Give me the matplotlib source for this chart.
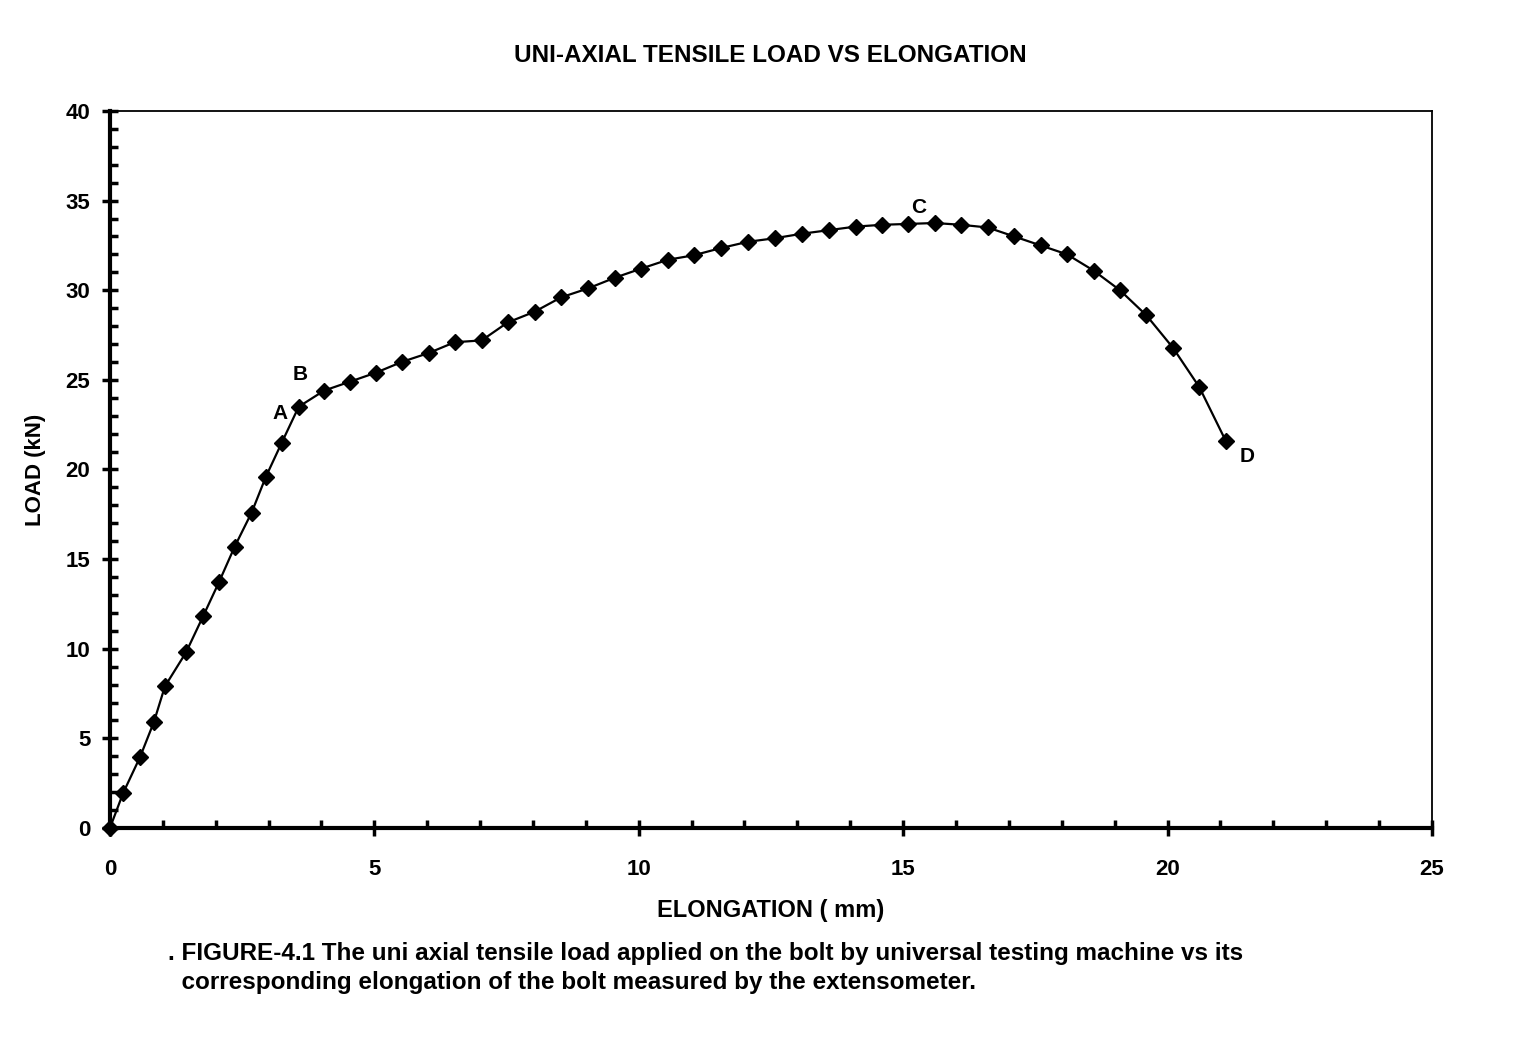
import matplotlib
matplotlib.use("Agg")
import matplotlib.pyplot as plt
from matplotlib.ticker import MultipleLocator

# elongation (mm) and load (kN)
elongation = [0.0, 0.25, 0.57, 0.83, 1.04, 1.44, 1.76, 2.06, 2.36, 2.68, 2.95, 3.25,
              3.57, 4.05, 4.54, 5.03, 5.52, 6.03, 6.52, 7.03, 7.52, 8.03, 8.53,
              9.04, 9.55, 10.04, 10.55, 11.04, 11.55, 12.06, 12.57, 13.08, 13.59,
              14.1, 14.6, 15.1, 15.6, 16.1, 16.6, 17.1, 17.6, 18.1, 18.6, 19.1,
              19.6, 20.1, 20.6, 21.1]
load = [0.0, 1.95, 3.96, 5.9, 7.9, 9.8, 11.8, 13.7, 15.7, 17.6, 19.6, 21.5,
        23.5, 24.4, 24.9, 25.4, 26.0, 26.5, 27.1, 27.2, 28.2, 28.8, 29.6,
        30.1, 30.7, 31.2, 31.7, 31.95, 32.35, 32.7, 32.9, 33.15, 33.35,
        33.55, 33.65, 33.7, 33.75, 33.65, 33.5, 33.0, 32.5, 32.0, 31.1, 30.0,
        28.6, 26.8, 24.6, 21.6]

point_labels = ["A", "B", "C", "D"]
label_at = [(3.22, 23.1), (3.6, 25.3), (15.3, 34.6), (21.5, 20.7)]

plt.rcParams["font.family"] = ["Liberation Sans", "DejaVu Sans"]

fig = plt.figure(figsize=(15.31, 10.51), dpi=100)
ax = fig.add_axes([0.0718, 0.2122, 0.8635, 0.6822])

ax.plot(elongation, load, color="black", lw=1.6, marker="D", ms=8.5,
        mfc="black", mec="black", clip_on=False, zorder=3)

for lab, (lx, ly) in zip(point_labels, label_at):
    ax.text(lx, ly, lab, fontsize=15, fontweight="bold", ha="center", va="center")

ax.set_xlim(0, 25)
ax.set_ylim(0, 40)
ax.xaxis.set_major_locator(MultipleLocator(5))
ax.xaxis.set_minor_locator(MultipleLocator(1))
ax.yaxis.set_major_locator(MultipleLocator(5))
ax.yaxis.set_minor_locator(MultipleLocator(1))

ax.tick_params(which="major", direction="inout", length=12, width=2.5,
               labelsize=16)
ax.tick_params(axis="x", which="major", pad=16)
ax.tick_params(axis="y", which="major", pad=8)
ax.tick_params(which="minor", direction="in", length=6, width=2.5)
for lbl in ax.get_xticklabels() + ax.get_yticklabels():
    lbl.set_fontweight("bold")

ax.spines["left"].set_linewidth(3)
ax.spines["bottom"].set_linewidth(3)
ax.spines["top"].set_linewidth(1.3)
ax.spines["right"].set_linewidth(1.3)

ax.set_xlabel("ELONGATION ( mm)", fontsize=17, fontweight="bold", labelpad=14)
ax.set_ylabel("LOAD (kN)", fontsize=16, fontweight="bold", labelpad=14)

fig.text(0.503, 0.947, "UNI-AXIAL TENSILE LOAD VS ELONGATION",
         fontsize=17.5, fontweight="bold", ha="center", va="center")

fig.text(0.110, 0.079,
         ". FIGURE-4.1 The uni axial tensile load applied on the bolt by universal testing machine vs its\n"
         "  corresponding elongation of the bolt measured by the extensometer.",
         fontsize=17.5, fontweight="bold", ha="left", va="center", linespacing=1.3)

fig.savefig("out.png", dpi=100, facecolor="white")
